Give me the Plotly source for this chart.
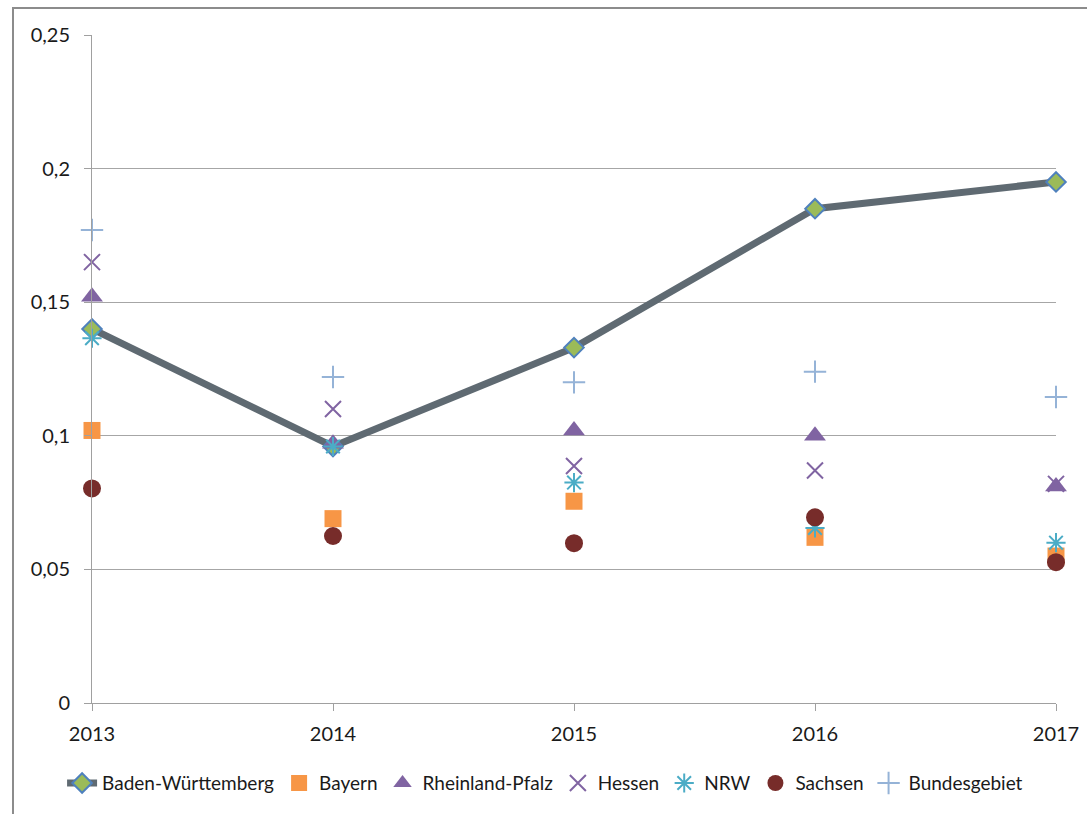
import plotly.graph_objects as go

years = [2013, 2014, 2015, 2016, 2017]
bw = [0.140, 0.096, 0.133, 0.185, 0.195]
bayern = [0.102, 0.069, 0.0755, 0.062, 0.055]
rlp = [0.152, 0.097, 0.102, 0.100, 0.081]
hessen = [0.165, 0.110, 0.0887, 0.087, 0.082]
nrw = [0.1365, 0.096, 0.0825, 0.0655, 0.060]
sachsen = [0.0803, 0.0625, 0.0598, 0.0695, 0.0527]
bund = [0.177, 0.122, 0.120, 0.124, 0.1145]
yticks = [0, 0.05, 0.1, 0.15, 0.2, 0.25]

FONT = "Lato, Carlito, Calibri, sans-serif"

fig = go.Figure()
fig.add_trace(go.Scatter(x=years, y=bw, name="Baden-Württemberg", mode="lines+markers",
                         line=dict(color="#5F6A72", width=7),
                         marker=dict(symbol="diamond", size=15, color="#9BBB59",
                                     line=dict(color="#4F81BD", width=2)),
                         cliponaxis=False))
fig.add_trace(go.Scatter(x=years, y=bayern, name="Bayern", mode="markers",
                         marker=dict(symbol="square", size=17, color="#F79646"),
                         cliponaxis=False))
fig.add_trace(go.Scatter(x=years, y=rlp, name="Rheinland-Pfalz", mode="markers",
                         marker=dict(symbol="triangle-up", size=19, color="#8064A2"),
                         cliponaxis=False))
fig.add_trace(go.Scatter(x=years, y=hessen, name="Hessen", mode="markers",
                         marker=dict(symbol="x-thin-open", size=16, color="#8064A2",
                                     line=dict(color="#8064A2", width=2)),
                         cliponaxis=False))
fig.add_trace(go.Scatter(x=years, y=nrw, name="NRW", mode="markers",
                         marker=dict(symbol="asterisk-open", size=16, color="#4BACC6",
                                     line=dict(color="#4BACC6", width=2)),
                         cliponaxis=False))
fig.add_trace(go.Scatter(x=years, y=sachsen, name="Sachsen", mode="markers",
                         marker=dict(symbol="circle", size=18, color="#772C2A"),
                         cliponaxis=False))
fig.add_trace(go.Scatter(x=years, y=bund, name="Bundesgebiet", mode="markers",
                         marker=dict(symbol="cross-thin-open", size=16, color="#95B3D7",
                                     line=dict(color="#95B3D7", width=2)),
                         cliponaxis=False))

fig.update_layout(
    width=1087, height=814,
    margin=dict(l=92, r=31, t=35, b=111, autoexpand=False),
    paper_bgcolor="white", plot_bgcolor="white",
    separators=",.",
    font=dict(family=FONT, size=20, color="#1a1a1a"),
    showlegend=True,
    legend=dict(orientation="h", x=0.47, xanchor="center", y=-0.12, yanchor="middle",
                font=dict(family=FONT, size=19, color="#1a1a1a"),
                itemwidth=30, tracegroupgap=0, traceorder="normal"),
    shapes=[dict(type="rect", xref="paper", yref="paper",
                 x0=(13 - 92) / 964, x1=(1095 - 92) / 964,
                 y0=(703 - 820) / 668, y1=(703 - 8) / 668,
                 line=dict(color="#8C8C8C", width=2), layer="below")],
)
fig.update_xaxes(range=[2013, 2017], tickvals=years, ticktext=[str(y) for y in years],
                 showgrid=False, showline=True, linecolor="#A0A0A0", linewidth=1,
                 ticks="outside", ticklen=7, tickcolor="#A0A0A0", zeroline=False,
                 ticklabelstandoff=6)
fig.update_yaxes(range=[0, 0.25], tickvals=yticks, showgrid=True, gridcolor="#A6A6A6",
                 gridwidth=1, showline=True, linecolor="#A0A0A0", linewidth=1,
                 ticks="outside", ticklen=7, tickcolor="#A0A0A0", zeroline=False,
                 ticklabelstandoff=10)

fig.write_html("out.html")
